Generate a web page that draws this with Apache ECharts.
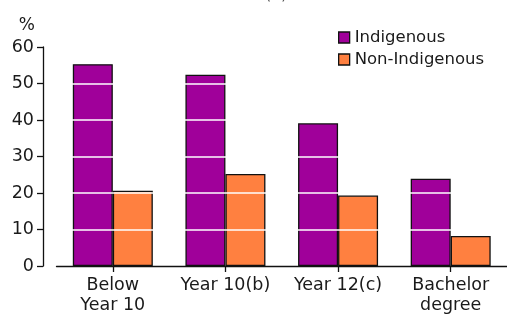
<!DOCTYPE html>
<html>
<head>
<meta charset="utf-8">
<script src="https://cdn.jsdelivr.net/npm/echarts@6/dist/echarts.min.js"></script>
<style>
  html, body { margin: 0; padding: 0; background: #fff; }
  #chart { width: 507px; height: 320px; }
</style>
</head>
<body>
<div id="chart"></div>
<script>
// Qualification levels and the share (%) of each population group
const categories = ['Below\nYear 10', 'Year 10(b)', 'Year 12(c)', 'Bachelor\ndegree'];
const indigenous = [55.3, 52.4, 39.1, 23.9];
const nonIndigenous = [20.6, 25.2, 19.3, 8.2];
const seriesNames = ['Indigenous', 'Non-Indigenous'];
const yTicks = [0, 10, 20, 30, 40, 50, 60];

const FONT = 'DejaVu Sans';
const chart = echarts.init(document.getElementById('chart'), null, { renderer: 'canvas' });

chart.setOption({
  animation: false,
  backgroundColor: '#ffffff',
  textStyle: { fontFamily: FONT, color: '#1a1a1a' },
  title: {
    text: '(a)',
    left: 260,
    top: -18,
    textStyle: { fontFamily: FONT, fontSize: 16, fontWeight: 'normal', color: '#555' }
  },
  legend: {
    data: seriesNames,
    orient: 'vertical',
    left: 333,
    top: 24,
    itemWidth: 11,
    itemHeight: 11,
    itemGap: 5,
    icon: 'rect',
    textStyle: { fontFamily: FONT, fontSize: 16.5, lineHeight: 17, color: '#1a1a1a' },
    itemStyle: { borderColor: '#111', borderWidth: 1.3 }
  },
  grid: { left: 56.5, right: -4, top: 47, bottom: 54, containLabel: false },
  xAxis: {
    type: 'category',
    data: categories,
    boundaryGap: true,
    z: 12,
    axisLine: { show: true, lineStyle: { color: '#111', width: 1.3 } },
    axisTick: { show: true, alignWithLabel: true, length: 6, lineStyle: { color: '#111', width: 1.3 } },
    axisLabel: { fontFamily: FONT, fontSize: 17.5, color: '#1a1a1a', lineHeight: 20, margin: 9, interval: 0 }
  },
  yAxis: {
    type: 'value',
    min: yTicks[0],
    max: yTicks[yTicks.length - 1],
    interval: 10,
    offset: 13.5,
    z: 10,
    name: '%',
    nameLocation: 'end',
    nameGap: 13,
    nameTextStyle: { fontFamily: FONT, fontSize: 17, color: '#1a1a1a', align: 'right', padding: [0, 8, 0, 0] },
    axisLine: { show: true, lineStyle: { color: '#111', width: 1.3 } },
    axisTick: { show: true, length: 6, lineStyle: { color: '#111', width: 1.3 } },
    axisLabel: { fontFamily: FONT, fontSize: 17.5, color: '#1a1a1a', margin: 9 },
    splitLine: { show: true, showMinLine: false, showMaxLine: false, lineStyle: { color: '#ffffff', width: 1.5 } }
  },
  series: [
    {
      name: seriesNames[0],
      type: 'bar',
      data: indigenous,
      barWidth: 40,
      barGap: '0%',
      itemStyle: { color: '#a0009a', borderColor: '#111', borderWidth: 1.3 }
    },
    {
      name: seriesNames[1],
      type: 'bar',
      data: nonIndigenous,
      barWidth: 40,
      barGap: '0%',
      itemStyle: { color: '#ff8040', borderColor: '#111', borderWidth: 1.3 }
    }
  ]
});
</script>
</body>
</html>
